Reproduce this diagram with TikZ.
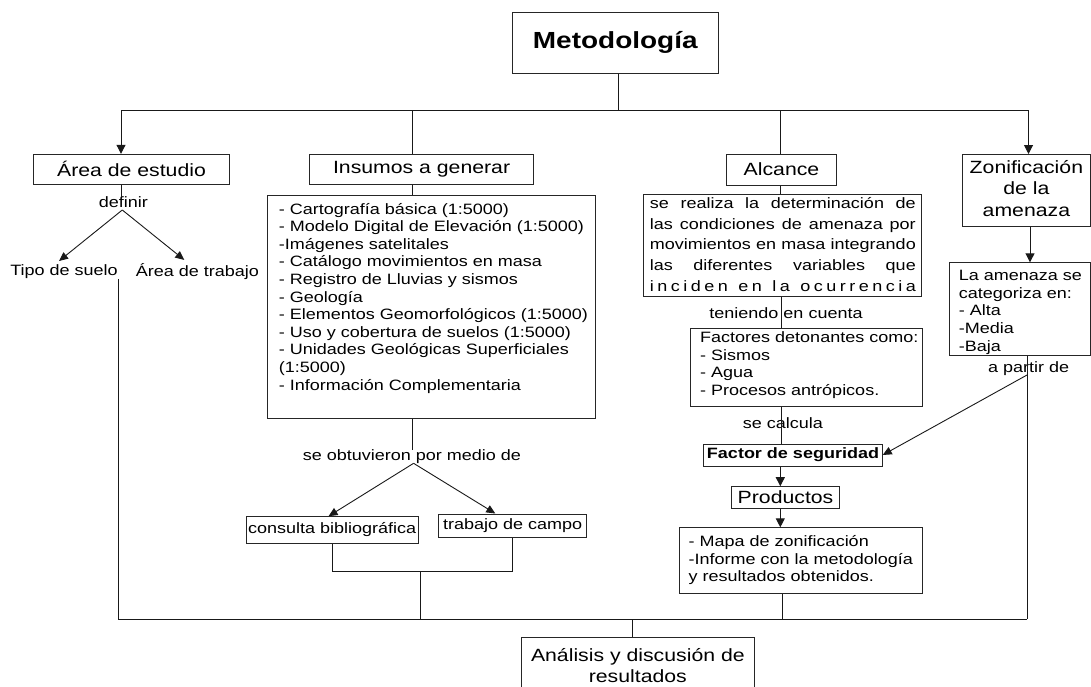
\documentclass[tikz,border=0pt]{standalone}
\usepackage{fontspec}
\setmainfont{Liberation Sans}[FakeStretch=1.2]
\usetikzlibrary{arrows.meta}
\begin{document}
\begin{tikzpicture}[x=1pt,y=-1pt,
  box/.style={draw=black!85, line width=1pt, inner sep=0pt},
  lbl/.style={inner sep=0pt, font=\fontsize{15}{17.6}\selectfont},
  hdr/.style={inner sep=0pt, font=\fontsize{17.7}{21.7}\selectfont},
  ln/.style={draw=black!90, line width=1pt},
  arr/.style={draw=black!90, line width=1pt, -{Triangle[length=9pt,width=9pt]}},
  sarr/.style={draw=black!90, line width=0.9pt, -{Triangle[length=9pt,width=8pt]}}]
\useasboundingbox (0,0) rectangle (1091,686);
\fill[white] (0,0) rectangle (1091,686);

% ---------- boxes ----------
\node[box, minimum width=205.5pt, minimum height=60.5pt, font=\bfseries\fontsize{23.3}{28}\selectfont] (meto) at (615.25,42.75) {Metodología};
\node[box, hdr, minimum width=195.7pt, minimum height=30pt] (area) at (131.5,169.3) {Área de estudio};
\node[box, hdr, minimum width=224.7pt, minimum height=30pt] (insumos) at (421.6,169) {Insumos a generar};
\node[box, hdr, minimum width=110.9pt, minimum height=31pt] (alcance) at (781.5,169.5) {Alcance};
\node[box, hdr, anchor=north west] (zon) at (962.3,154) {\parbox[c][71.7pt][t]{127.2pt}{\centering\fontsize{17.7}{21.8}\selectfont\rule{0pt}{18.6pt}Zonificación\\de la\\amenaza}};

\node[box, lbl, anchor=north west] (list) at (266.7,195) {\parbox[c][223.3pt][t]{328.3pt}{\fontsize{15}{17.6}\selectfont\leftskip=11.6pt\rule{0pt}{18.5pt}- Cartografía básica (1:5000)\\- Modelo Digital de Elevación (1:5000)\\-Imágenes satelitales\\- Catálogo movimientos en masa\\- Registro de Lluvias y sismos\\- Geología\\- Elementos Geomorfológicos (1:5000)\\- Uso y cobertura de suelos (1:5000)\\- Unidades Geológicas Superficiales\\(1:5000)\\- Información Complementaria}};

\node[box, lbl, anchor=north west] (alctext) at (643,194.3) {\parbox[c][101.4pt][t]{278pt}{\fontsize{15}{20.7}\selectfont\leftskip=6.3pt\rule{0pt}{13.5pt}\makebox[266pt][s]{se realiza la determinación de}\\\makebox[266pt][s]{las condiciones de amenaza por}\\\makebox[266pt][s]{movimientos en masa integrando}\\\makebox[266pt][s]{las diferentes variables que}\\\makebox[266pt][s]{i\hfill n\hfill c\hfill i\hfill d\hfill e\hfill n\hfill\hfill\hfill e\hfill n\hfill\hfill\hfill l\hfill a\hfill\hfill\hfill o\hfill c\hfill u\hfill r\hfill r\hfill e\hfill n\hfill c\hfill i\hfill a}}};

\node[box, lbl, anchor=north west] (factores) at (690.3,328.3) {\parbox[c][77.7pt][t]{231.8pt}{\fontsize{15}{17.5}\selectfont\leftskip=9.4pt\rule{0pt}{13.9pt}Factores detonantes como:\\- Sismos\\- Agua\\- Procesos antrópicos.}};

\node[box, minimum width=178.4pt, minimum height=22pt, inner sep=0pt, font=\bfseries\fontsize{15}{18}\selectfont] (fs) at (793,455) {Factor de seguridad};
\node[box, hdr, minimum width=107.7pt, minimum height=21.6pt] (productos) at (785.55,497.5) {Productos};
\node[box, lbl, anchor=north west] (prodlist) at (679.2,527.3) {\parbox[c][66pt][t]{242.9pt}{\fontsize{15}{17.5}\selectfont\leftskip=9pt\rule{0pt}{18.9pt}- Mapa de zonificación\\-Informe con la metodología\\y resultados obtenidos.}};

\node[box, lbl, anchor=north west] (cat) at (949.3,262.3) {\parbox[c][92.7pt][t]{140.2pt}{\fontsize{15}{17.6}\selectfont\leftskip=9pt\rule{0pt}{17.9pt}La amenaza se\\categoriza en:\\- Alta\\-Media\\-Baja}};

\node[box, lbl, minimum width=172.5pt, minimum height=26.6pt] (consulta) at (332.25,530) {consulta bibliográfica};
\node[box, lbl, minimum width=148pt, minimum height=23.7pt] (trabajo) at (512.7,525.85) {trabajo de campo};

\node[box, hdr, anchor=north west] (analisis) at (520.7,637.3) {\parbox[c][52.7pt][t]{233.3pt}{\centering\fontsize{17.7}{20.7}\selectfont\rule{0pt}{24pt}Análisis y discusión de\\resultados}};

% ---------- labels ----------
\node[lbl] (definir) at (123.4,202.3) {definir};
\node[lbl] (tipo) at (64,271.7) {Tipo de suelo};
\node[lbl] (trab) at (197.3,271.7) {Área de trabajo};
\node[lbl] (obt) at (411.9,456.7) {se obtuvieron por medio de};
\node[lbl] (ten) at (786,313.3) {teniendo en cuenta};
\node[lbl] (calc) at (783,423.3) {se calcula};
\node[lbl] (apartir) at (1028.7,368.3) {a partir de};

% ---------- coordinates ----------
\coordinate (jm) at (618.3,110.7);
\coordinate (hl) at (121,110.7);
\coordinate (hr) at (1028.5,110.7);
\coordinate (xi) at (412.2,110.7);
\coordinate (xa) at (780.3,110.7);
\coordinate (xb) at (781.4,0);
\coordinate (xc) at (782,0);
\coordinate (xz) at (1030,0);
\coordinate (dv) at (122.3,210);
\coordinate (ov) at (413.6,463.3);
\coordinate (cm) at (420.6,571.7);
\coordinate (bl) at (118.2,619.3);
\coordinate (br) at (1027,619.3);
\coordinate (ban) at (632.6,619.3);
\coordinate (ap) at (1027,375);

% ---------- connectors ----------
\draw[ln] (meto.south -| jm) -- (jm);
\draw[ln] (hl) -- (hr);
\draw[arr] (hl) -- (hl |- area.north);
\draw[ln] (xi) -- (xi |- insumos.north);
\draw[ln] (xa) -- (xa |- alcance.north);
\draw[arr] (hr) -- (hr |- zon.north);

\draw[ln] (hl |- area.south) -- (hl |- definir.north);
\draw[sarr] (dv) -- ([shift={(-5,-3.5)}]tipo.north);
\draw[sarr] (dv) -- ([shift={(-13,-3.5)}]trab.north);
\draw[ln] (tipo.south east -| bl) -- (bl);

\draw[ln] (xi |- insumos.south) -- (xi |- list.north);
\draw[ln] (xi |- list.south) -- (xi |- obt.north);
\draw[sarr] (ov) -- ([xshift=-3.7pt]consulta.north);
\draw[sarr] (ov) -- ([xshift=-17.4pt]trabajo.north);
\draw[ln] (consulta.south) |- (cm) -| (trabajo.south);
\draw[ln] (cm) -- (cm |- bl);
\draw[ln] (bl) -- (br);
\draw[ln] (ban) -- (ban |- analisis.north);

\draw[ln] (xa |- alcance.south) -- (xa |- alctext.north);
\draw[ln] (alctext.south -| xb) -- (factores.north -| xb);
\draw[ln] (factores.south -| xb) -- (fs.north -| xb);
\draw[arr] (fs.south -| xa) -- (productos.north -| xa);
\draw[arr] (productos.south -| xa) -- (prodlist.north -| xa);
\draw[ln] (prodlist.south -| xc) -- (xc |- bl);

\draw[arr] (zon.south -| xz) -- (cat.north -| xz);
\draw[ln] (cat.south -| br) -- (br);
\draw[sarr] (ap) -- (fs.east);
\end{tikzpicture}
\end{document}
